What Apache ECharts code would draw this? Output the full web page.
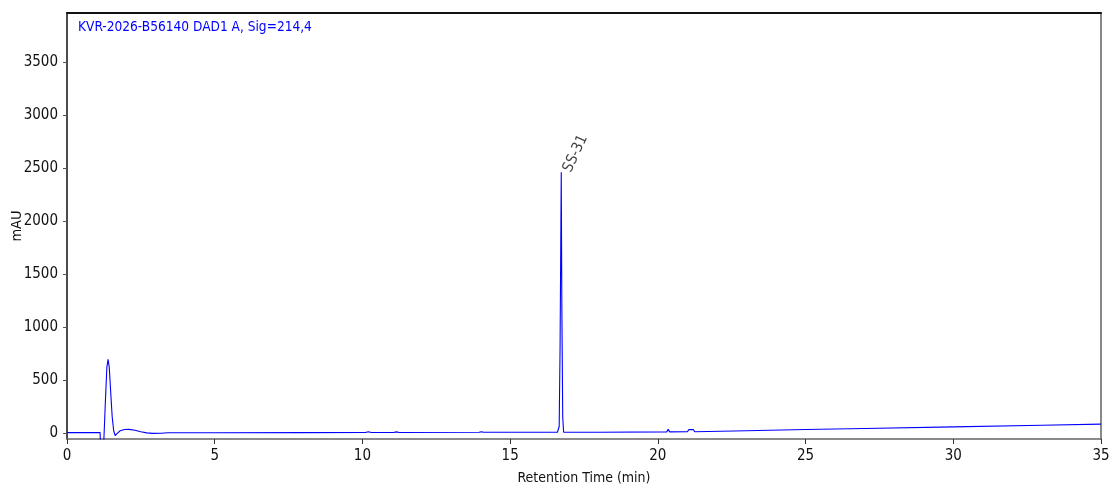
<!DOCTYPE html>
<html>
<head>
<meta charset="utf-8">
<script src="https://cdn.jsdelivr.net/npm/echarts@6/dist/echarts.min.js"></script>
<style>
  html, body { margin: 0; padding: 0; background: #fff; }
  #chart { width: 1119px; height: 499px; }
</style>
</head>
<body>
<div id="chart"></div>
<script>
// chromatogram trace (min, mAU)
var times = [0, 1.12, 1.14, 1.23, 1.25, 1.30, 1.35, 1.39, 1.43, 1.48, 1.53, 1.58, 1.63, 1.70, 1.80,
  1.95, 2.10, 2.30, 2.50, 2.70, 2.90, 3.20, 3.40, 5, 8, 10.1, 10.2, 10.3, 11.05, 11.15, 11.25,
  13.95, 14.03, 14.1, 16.6, 16.66, 16.69, 16.73, 16.75, 16.78, 16.81, 16.86, 18, 20.3, 20.35,
  20.4, 21.0, 21.05, 21.2, 21.25, 23, 25, 27, 30, 33, 35];
var signal = [2, 2, -200, -200, -50, 300, 620, 693, 620, 380, 150, 20, -25, -5, 20,
  32, 33, 25, 10, 0, -5, -4, 1, 1, 2, 3, 10, 3, 3, 9, 4,
  5, 11, 5, 6, 60, 800, 2458, 1200, 150, 5, 4, 6, 9, 33,
  9, 10, 30, 30, 10, 20, 31, 41, 56, 71, 82];

var peakNames = ['SS-31'];
var peakTimes = [16.73];
var peakHeights = [2458];

var yTicks = [0, 500, 1000, 1500, 2000, 2500, 3000, 3500];
var xTicks = [0, 5, 10, 15, 20, 25, 30, 35];

var titleText = 'KVR-2026-B56140 DAD1 A, Sig=214,4';

var font = 'DejaVu Sans Condensed';

var chart = echarts.init(document.getElementById('chart'));

var trace = times.map(function (t, i) { return [t, signal[i]]; });
var peaks = peakTimes.map(function (t, i) { return [t, peakHeights[i], peakNames[i]]; });
var plain = function (v) { return String(v); };

var option = {
  animation: false,
  backgroundColor: '#fff',
  title: {
    text: titleText,
    left: 73, top: 15,
    textStyle: { color: '#0000ff', fontFamily: font, fontSize: 13.6, fontWeight: 'normal' }
  },
  grid: { left: 67, right: 18, top: 13, bottom: 60, outerBoundsMode: 'none', containLabel: false },
  xAxis: [{
    type: 'value',
    min: xTicks[0], max: xTicks[xTicks.length - 1], interval: 5,
    name: 'Retention Time (min)',
    nameLocation: 'middle', nameGap: 32, nameMoveOverlap: false,
    nameTextStyle: { fontFamily: font, fontSize: 14, color: '#111' },
    axisLine: { show: true, onZero: false, lineStyle: { color: '#666', width: 1.5 } },
    axisTick: { show: true, length: 5, lineStyle: { color: '#333' } },
    axisLabel: { fontFamily: font, fontSize: 15, color: '#111', margin: 10, formatter: plain },
    splitLine: { show: false }
  }, {
    type: 'value', position: 'top',
    min: 0, max: 35,
    axisLine: { show: true, onZero: false, lineStyle: { color: '#111', width: 2 } },
    axisTick: { show: false }, axisLabel: { show: false }, splitLine: { show: false }
  }],
  yAxis: [{
    type: 'value',
    min: -58, max: 3960,
    name: 'mAU',
    nameLocation: 'middle', nameGap: 42, nameRotate: 90, nameMoveOverlap: false,
    nameTextStyle: { fontFamily: font, fontSize: 14.5, color: '#111' },
    axisLine: { show: true, onZero: false, lineStyle: { color: '#111', width: 1.5 } },
    axisTick: { show: true, length: 4, customValues: yTicks, lineStyle: { color: '#555' } },
    axisLabel: { fontFamily: font, fontSize: 15, color: '#111', margin: 9, customValues: yTicks, formatter: plain },
    splitLine: { show: false }
  }, {
    type: 'value', position: 'right',
    min: -58, max: 3960,
    axisLine: { show: true, onZero: false, lineStyle: { color: '#888', width: 2 } },
    axisTick: { show: false }, axisLabel: { show: false }, splitLine: { show: false }
  }],
  series: [{
    type: 'line',
    data: trace,
    showSymbol: false,
    clip: true,
    lineStyle: { color: '#0000ff', width: 1.1 },
    z: 3
  }, {
    type: 'scatter',
    data: peaks,
    symbolSize: 0,
    label: {
      show: true,
      position: [6, -1],
      rotate: 65,
      align: 'left',
      verticalAlign: 'middle',
      formatter: function (p) { return p.data[2]; },
      fontFamily: font, fontSize: 15, color: '#111'
    },
    z: 4
  }]
};

option && chart.setOption(option);
</script>
</body>
</html>
